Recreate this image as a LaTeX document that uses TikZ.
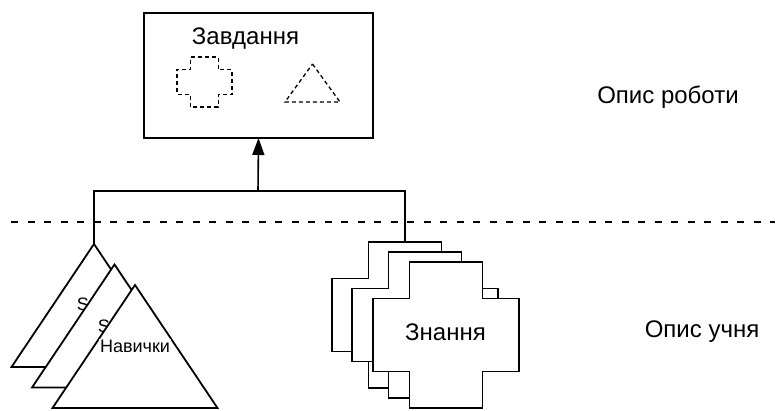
\documentclass[tikz,border=0pt]{standalone}
\usepackage{fontspec}
\setmainfont{Liberation Sans}
\usetikzlibrary{arrows.meta}
\begin{document}
\begin{tikzpicture}[x=1pt,y=-1pt,
  outline/.style={draw, line width=1.8pt, fill=white, line join=miter},
  link/.style={line width=1.6pt},
  hint/.style={draw, line width=1.3pt, dash pattern=on 4pt off 3pt},
  divider/.style={line width=1.6pt, dash pattern=on 7pt off 9.5pt},
  big/.style={font=\fontsize{24}{28}\selectfont, inner sep=0pt},
  small/.style={font=\fontsize{18}{21}\selectfont, inner sep=0pt},
  % plus-shaped outline: #1 = half width, #2 = half height
  pics/plus/.style 2 args={code={
    \path[pic actions] (-#1/2,-#2) -- (#1/2,-#2) -- (#1/2,-#2/2) -- (#1,-#2/2)
      -- (#1,#2/2) -- (#1/2,#2/2) -- (#1/2,#2) -- (-#1/2,#2) -- (-#1/2,#2/2)
      -- (-#1,#2/2) -- (-#1,-#2/2) -- (-#1/2,-#2/2) -- cycle;
    \coordinate (-top) at (0,-#2);
  }},
  % triangle outline: #1 = half base, #2 = half height
  pics/tri/.style 2 args={code={
    \path[pic actions] (0,-#2) -- (#1,#2) -- (-#1,#2) -- cycle;
    \coordinate (-apex) at (0,-#2);
  }}
]
\useasboundingbox (0,0) rectangle (775,410);

% level divider
\coordinate (divL) at (11,222);
\coordinate (divR) at (775,222);
\draw[divider] (divL) -- (divR);

% task box
\node[draw, line width=1.8pt, minimum width=229pt, minimum height=125pt,
      outer sep=0pt] (task) at (258.5,75.5) {};
\node[big, anchor=base] (tasktitle) at (245.5,44) {Завдання};
\pic[hint] (hplus) at (204.5,82) {plus={27.5}{25}};
\pic[hint] (htri) at (312.5,83) {tri={27.5}{19}};

% side labels
\node[big, anchor=base] (jobdesc) at (668,103) {Опис роботи};
\node[big, anchor=base] (learnerdesc) at (702,337) {Опис учня};

% junction and connectors
\coordinate (bus) at (258,191);
\coordinate (t1top) at (94,244);
\coordinate (c1top) at (405,242);
\draw[link] (t1top) |- (bus) -| (c1top);
\draw[link, -{Triangle[length=17pt,width=12pt]}] (bus) -- (task.south);

% stacked skill triangles
\pic[outline] (t1) at (94,305.5) {tri={82.5}{61.5}};
\node[small, anchor=base] (s1) at (83,310) {S};
\pic[outline] (t2) at (114.5,326) {tri={82.5}{61.5}};
\node[small, anchor=base] (s2) at (104,332) {S};
\pic[outline] (t3) at (135,346.5) {tri={82.5}{61.5}};
\node[small, anchor=base, fill=white, inner sep=1pt] (skills) at (135,352) {Навички};

% stacked knowledge crosses
\pic[outline] (c1) at (405,315) {plus={73}{73}};
\pic[outline] (c2) at (425,325) {plus={73}{73}};
\pic[outline] (c3) at (446,335) {plus={73}{73}};
\node[big, anchor=base] (knowledge) at (445.5,340) {Знання};
\end{tikzpicture}
\end{document}
